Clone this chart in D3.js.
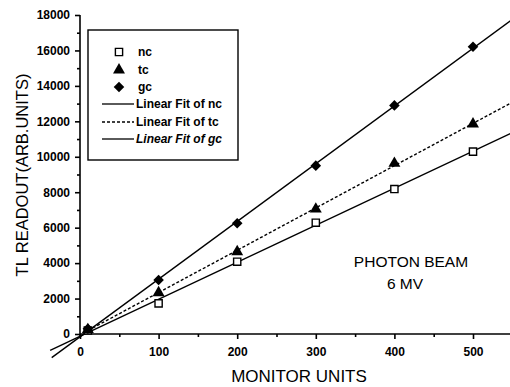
<!DOCTYPE html>
<html><head><meta charset="utf-8">
<script src="https://cdn.jsdelivr.net/npm/d3@7"></script>
<style>body{margin:0;background:#fff}svg{display:block}text{font-family:"Liberation Sans",Arial,sans-serif}</style>
</head><body>
<svg id="c" width="510" height="387"></svg>
<script>
const monitorUnits = [10, 100, 200, 300, 400, 500];
const ncValues = [200, 1730, 4080, 6280, 8180, 10290];
const tcValues = [250, 2330, 4640, 7050, 9630, 11850];
const gcValues = [300, 3050, 6250, 9500, 12900, 16210];
const xTicks = [0, 100, 200, 300, 400, 500];
const yTicks = [0, 2000, 4000, 6000, 8000, 10000, 12000, 14000, 16000, 18000];
const legendLabels = ["nc", "tc", "gc", "Linear Fit of nc", "Linear Fit of tc", "Linear Fit of gc"];

const svg = d3.select("#c");
const x = d3.scaleLinear().domain([0, 500]).range([80, 473]);
const y = d3.scaleLinear().domain([0, 18000]).range([334, 15]);

function fit(xs, ys) {
  const mx = d3.mean(xs), my = d3.mean(ys);
  let sxy = 0, sxx = 0;
  xs.forEach((v, i) => { sxy += (v - mx) * (ys[i] - my); sxx += (v - mx) * (v - mx); });
  const b = sxy / sxx; return { b, a: my - b * mx };
}

// axes
const yAxis = d3.axisLeft(y).tickValues(yTicks).tickSize(5).tickPadding(5).tickFormat(d3.format("d"));
const yMinor = d3.axisLeft(y).tickValues(d3.range(1000, 18000, 2000)).tickSize(3).tickFormat("");
const xAxis = d3.axisBottom(x).tickValues(xTicks).tickSize(5).tickPadding(8).tickFormat(d3.format("d"));
const xMinor = d3.axisBottom(x).tickValues(d3.range(50, 560, 100)).tickSize(3).tickFormat("");

const gy = svg.append("g").attr("transform", "translate(80,0)").call(yAxis);
svg.append("g").attr("transform", "translate(80,0)").call(yMinor).select(".domain").remove();
const gx = svg.append("g").attr("transform", "translate(0,334)").call(xAxis);
svg.append("g").attr("transform", "translate(0,334)").call(xMinor).select(".domain").remove();
gx.select(".domain").attr("d", "M80,0H512");
gy.select(".domain").attr("d", "M0,15V336");
svg.selectAll(".domain, .tick line").attr("stroke", "#000").attr("stroke-width", 1.6);
svg.selectAll(".tick text").attr("font-size", 12).attr("font-weight", "bold").attr("fill", "#000");

// fit lines
const fits = [
  { vals: ncValues, dash: null, from: -38 },
  { vals: tcValues, dash: "3,2", from: 5 },
  { vals: gcValues, dash: null, from: -36 }
];
fits.forEach(f => {
  const p = fit(monitorUnits, f.vals);
  const xs = [f.from, 560];
  svg.append("line")
    .attr("x1", x(xs[0])).attr("y1", y(p.a + p.b * xs[0]))
    .attr("x2", x(xs[1])).attr("y2", y(p.a + p.b * xs[1]))
    .attr("stroke", "#000").attr("stroke-width", 1.4)
    .attr("stroke-dasharray", f.dash);
});

// markers
const sq = d3.symbol().type(d3.symbolSquare).size(52);
const tri = d3.symbol().type(d3.symbolTriangle).size(62);
const diamondType = { draw(ctx, size) { const r = Math.sqrt(size / 2); ctx.moveTo(0, -r); ctx.lineTo(r, 0); ctx.lineTo(0, r); ctx.lineTo(-r, 0); ctx.closePath(); } };
const dia = d3.symbol().type(diamondType).size(56);
svg.selectAll(".nc").data(monitorUnits).enter().append("path")
  .attr("d", sq).attr("transform", (d, i) => `translate(${x(d)},${y(ncValues[i])})`)
  .attr("fill", "#fff").attr("stroke", "#000").attr("stroke-width", 1.4);
svg.selectAll(".tc").data(monitorUnits).enter().append("path")
  .attr("d", tri).attr("transform", (d, i) => `translate(${x(d)},${y(tcValues[i])})`)
  .attr("fill", "#000");
svg.selectAll(".gc").data(monitorUnits).enter().append("path")
  .attr("d", dia).attr("transform", (d, i) => `translate(${x(d)},${y(gcValues[i])})`)
  .attr("fill", "#000");

// legend
svg.append("rect").attr("x", 88).attr("y", 30).attr("width", 150).attr("height", 130)
  .attr("fill", "#fff").attr("stroke", "#000").attr("stroke-width", 1.4);
const rows = [52, 70, 87, 104, 122, 139];
const syms = [sq, tri, dia];
rows.forEach((ry, i) => {
  if (i < 3) {
    svg.append("path").attr("d", syms[i]).attr("transform", `translate(119,${ry})`)
      .attr("fill", i === 0 ? "#fff" : "#000").attr("stroke", i === 0 ? "#000" : "none").attr("stroke-width", 1.4);
    svg.append("text").attr("x", 138).attr("y", ry + 4).attr("font-size", 12).attr("font-weight", "bold").text(legendLabels[i]);
  } else {
    svg.append("line").attr("x1", 102).attr("x2", 134).attr("y1", ry).attr("y2", ry)
      .attr("stroke", "#000").attr("stroke-width", 1.3).attr("stroke-dasharray", i === 4 ? "3,2" : null);
    svg.append("text").attr("x", 136).attr("y", ry + 4).attr("font-size", 12).attr("font-weight", "bold")
      .attr("font-style", i === 5 ? "italic" : null).text(legendLabels[i]);
  }
});

// titles
svg.append("text").attr("transform", "translate(28,175) rotate(-90)").attr("text-anchor", "middle")
  .attr("font-size", 16.5).text("TL READOUT(ARB.UNITS)");
svg.append("text").attr("x", 299).attr("y", 382).attr("text-anchor", "middle")
  .attr("font-size", 17).text("MONITOR UNITS");
svg.append("text").attr("x", 411).attr("y", 267).attr("text-anchor", "middle")
  .attr("font-size", 15.5).text("PHOTON BEAM");
svg.append("text").attr("x", 405).attr("y", 289).attr("text-anchor", "middle")
  .attr("font-size", 15.5).text("6 MV");
</script>
</body></html>
